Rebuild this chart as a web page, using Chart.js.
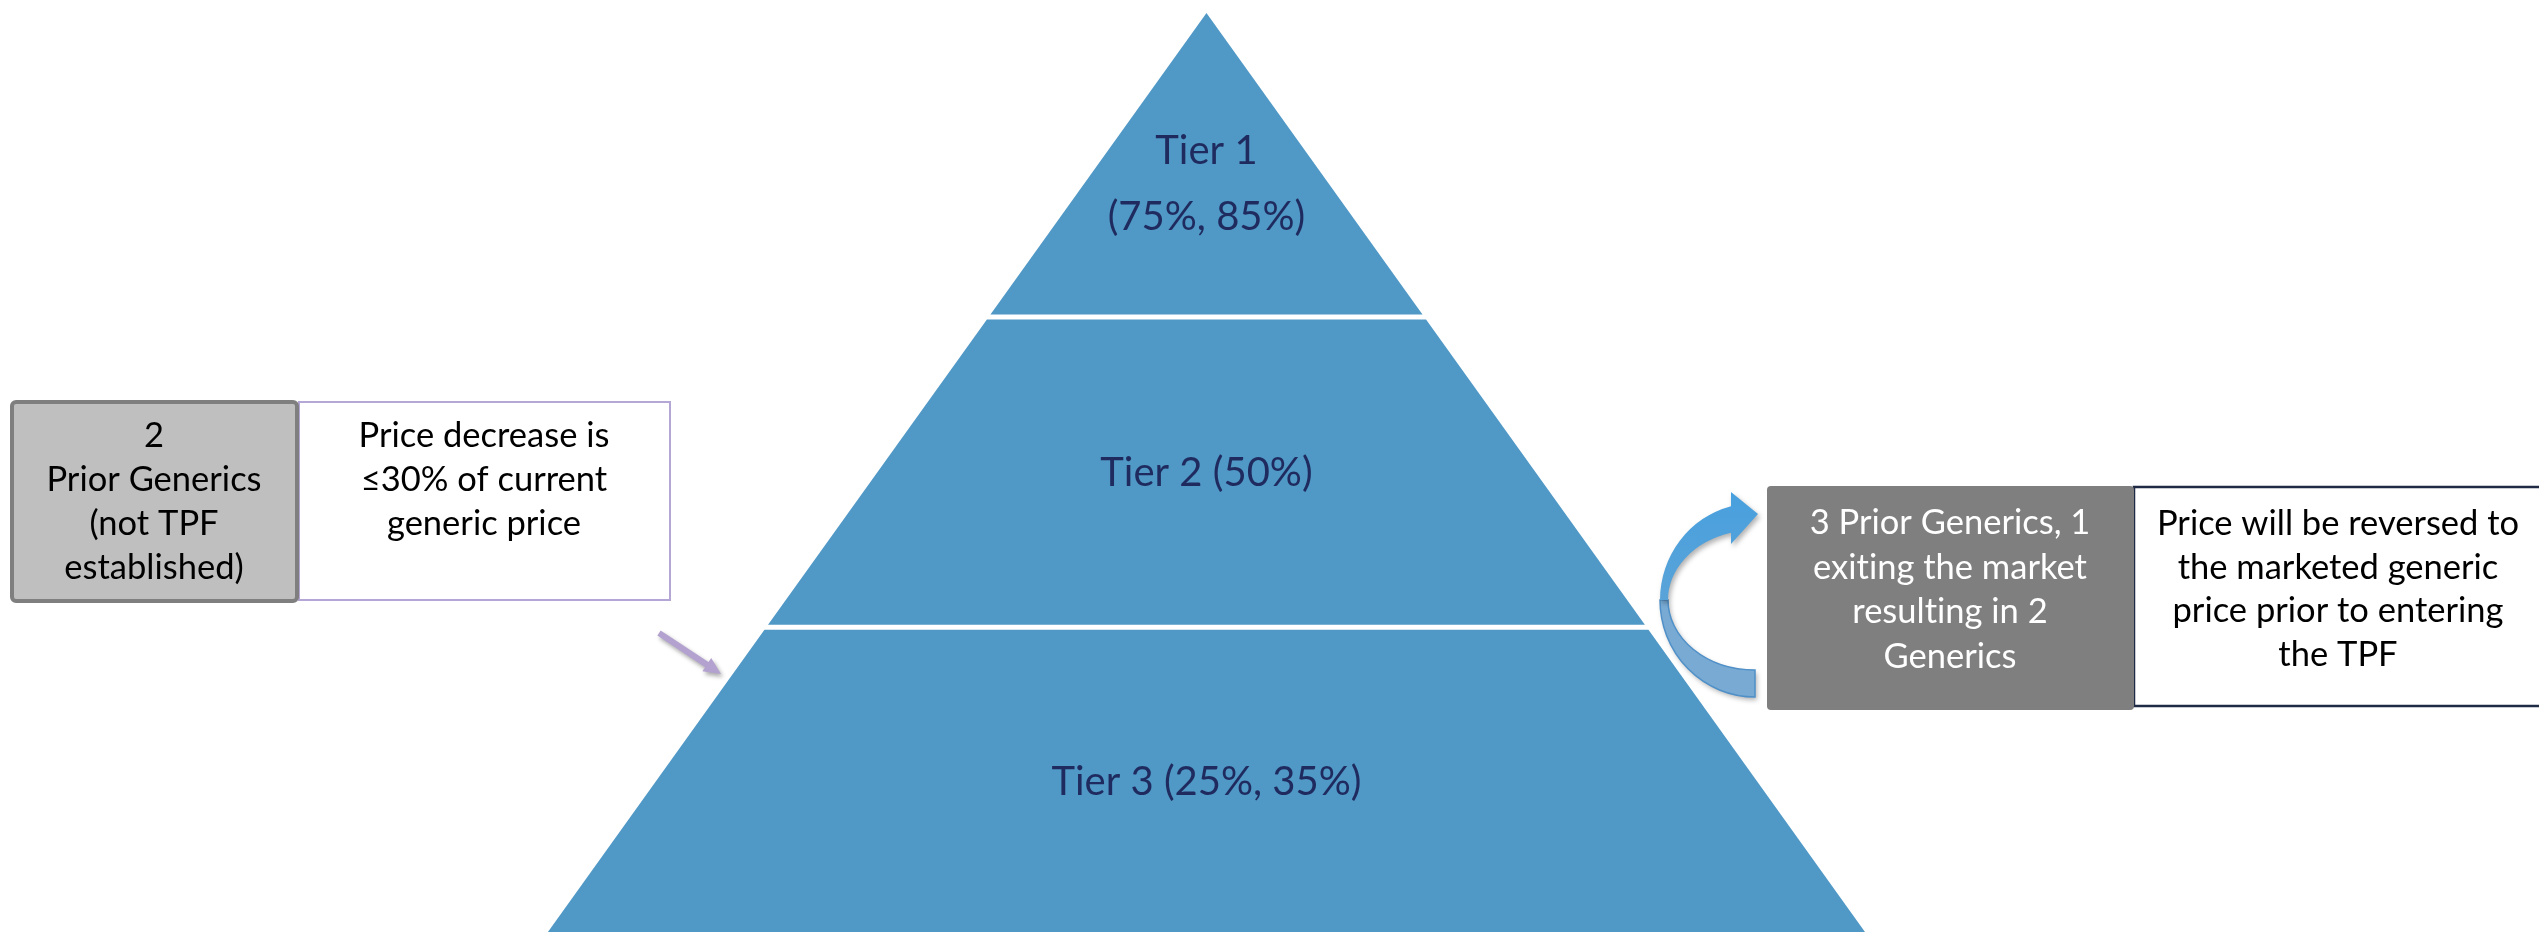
<!DOCTYPE html>
<html>
<head>
<meta charset="utf-8">
<title>Generic price tiers</title>
<script src="https://cdn.jsdelivr.net/npm/chart.js@4.4.0/dist/chart.umd.min.js"></script>
<style>
  html, body { margin: 0; padding: 0; background: #fff; }
  canvas { display: block; }
</style>
</head>
<body>
<canvas id="tierChart" width="2539" height="932"></canvas>
<script>
// Tiers of the pyramid, from the top down
const tierNames = ['Tier 1', 'Tier 2', 'Tier 3'];
const tierRates = [[75, 85], [50], [25, 35]];
// Where each tier starts/ends, as a share of the pyramid height (apex = 0, base = 1)
const tierEdges = [0, 0.33, 0.667, 1];

// Callout texts
const leftBoxLines = ['2', 'Prior Generics', '(not TPF', 'established)'];
const leftNoteLines = ['Price decrease is', '≤30% of current', 'generic price'];
const rightBoxLines = ['3 Prior Generics, 1', 'exiting the market', 'resulting in 2', 'Generics'];
const rightNoteLines = ['Price will be reversed to', 'the marketed generic', 'price prior to entering', 'the TPF'];

const FONT = 'Lato, "Open Sans", sans-serif';
const TIER_BLUE = '#5098c6';
const TIER_TEXT = '#1f2b5e';
const TIER_GAP = 0.0027;

function tierLabel(i) {
    return tierNames[i] + ' (' + tierRates[i].map(r => r + '%').join(', ') + ')';
}

// each tier is a closed trapezoid, half width equal to its depth below the apex
const datasets = tierNames.map((name, i) => {
    const top = tierEdges[i] + (i > 0 ? TIER_GAP : 0);
    const bottom = tierEdges[i + 1] - (i < tierNames.length - 1 ? TIER_GAP : 0);
    return {
        label: name,
        data: [
            { x: -top, y: top },
            { x: top, y: top },
            { x: bottom, y: bottom },
            { x: -bottom, y: bottom },
            { x: -top, y: top }
        ],
        fill: 'shape',
        backgroundColor: TIER_BLUE,
        borderColor: 'rgba(0,0,0,0)',
        borderWidth: 0,
        pointRadius: 0,
        tension: 0
    };
});

function drawLines(ctx, lines, cx, firstBaseline, lineHeight, font, color) {
    ctx.save();
    ctx.font = font;
    ctx.textRendering = 'optimizeSpeed'; // no "ti" ligatures
    ctx.fillStyle = color;
    ctx.textAlign = 'center';
    ctx.textBaseline = 'alphabetic';
    lines.forEach((line, k) => ctx.fillText(line, cx, firstBaseline + k * lineHeight));
    ctx.restore();
}

function roundRect(ctx, x, y, w, h, r) {
    ctx.beginPath();
    ctx.moveTo(x + r, y);
    ctx.arcTo(x + w, y, x + w, y + h, r);
    ctx.arcTo(x + w, y + h, x, y + h, r);
    ctx.arcTo(x, y + h, x, y, r);
    ctx.arcTo(x, y, x + w, y, r);
    ctx.closePath();
}

// labels in the middle of every tier; wrap when the line is wider than the tier
const tierLabelsPlugin = {
    id: 'tierLabels',
    afterDatasetsDraw(chart) {
        const { ctx, scales: { x, y } } = chart;
        const font = '40px ' + FONT;
        ctx.save();
        ctx.font = font;
        tierNames.forEach((name, i) => {
            const y0 = tierEdges[i], y1 = tierEdges[i + 1];
            const mid = i === 0 ? y0 + (y1 - y0) * 0.56 : (y0 + y1) / 2;
            const cx = x.getPixelForValue(0);
            const cy = y.getPixelForValue(mid);
            const room = (x.getPixelForValue(mid) - cx) * 2 * 0.85;
            let lines = [tierLabel(i)];
            if (ctx.measureText(lines[0]).width > room) {
                lines = [name, '(' + tierRates[i].map(r => r + '%').join(', ') + ')'];
            }
            const lh = 66;
            const first = cy - (lines.length - 1) * lh / 2 + 14;
            drawLines(ctx, lines, cx, first, lh, font, TIER_TEXT);
        });
        ctx.restore();
    }
};

function drawStraightArrow(ctx, x1, y1, x2, y2) {
    const ang = Math.atan2(y2 - y1, x2 - x1);
    const len = Math.hypot(x2 - x1, y2 - y1);
    const head = 17, half = 8, shaft = 3;
    ctx.save();
    ctx.translate(x1, y1);
    ctx.rotate(ang);
    ctx.shadowColor = 'rgba(0,0,0,0.35)';
    ctx.shadowBlur = 4;
    ctx.shadowOffsetX = 2;
    ctx.shadowOffsetY = 3;
    ctx.fillStyle = '#b3a2cf';
    ctx.beginPath();
    ctx.moveTo(0, -shaft);
    ctx.lineTo(len - head, -shaft);
    ctx.lineTo(len - head, -half);
    ctx.lineTo(len, 0);
    ctx.lineTo(len - head, half);
    ctx.lineTo(len - head, shaft);
    ctx.lineTo(0, shaft);
    ctx.closePath();
    ctx.fill();
    ctx.restore();
}

function drawCurvedArrow(ctx) {
    const cx = 1755, cy = 600;
    const ro = { x: 95, y: 97 }, ri = { x: 87, y: 70 };
    ctx.save();
    ctx.shadowColor = 'rgba(0,0,0,0.3)';
    ctx.shadowBlur = 5;
    ctx.shadowOffsetX = 2;
    ctx.shadowOffsetY = 3;

    // lower, back-facing half of the band
    ctx.beginPath();
    ctx.ellipse(cx, cy, ro.x, ro.y, 0, Math.PI, Math.PI / 2, true);
    ctx.lineTo(cx, cy + ri.y);
    ctx.ellipse(cx, cy, ri.x, ri.y, 0, Math.PI / 2, Math.PI, false);
    ctx.closePath();
    ctx.fillStyle = '#78aad3';
    ctx.fill();
    ctx.shadowColor = 'transparent';
    ctx.strokeStyle = '#4f90c8';
    ctx.lineWidth = 1.5;
    ctx.stroke();

    // upper, front-facing half with the head
    const ao = 2 * Math.PI - Math.acos(-24 / ro.x);
    const ai = 2 * Math.PI - Math.acos(-24 / ri.x);
    ctx.shadowColor = 'rgba(0,0,0,0.3)';
    ctx.beginPath();
    ctx.ellipse(cx, cy, ro.x, ro.y, 0, Math.PI, ao, false);
    ctx.lineTo(1731, 492);
    ctx.lineTo(1758, 514);
    ctx.lineTo(1731, 544);
    ctx.lineTo(cx + ri.x * Math.cos(ai), cy + ri.y * Math.sin(ai));
    ctx.ellipse(cx, cy, ri.x, ri.y, 0, ai, Math.PI, true);
    ctx.closePath();
    const g = ctx.createLinearGradient(0, 490, 0, 605);
    g.addColorStop(0, '#48a0de');
    g.addColorStop(1, '#5aa3d8');
    ctx.fillStyle = g;
    ctx.fill();
    ctx.restore();
}

const calloutsPlugin = {
    id: 'callouts',
    afterDraw(chart) {
        const ctx = chart.ctx;
        const boxFont = '34.5px ' + FONT;

        // left note box, then the grey label box over its left edge
        ctx.save();
        ctx.strokeStyle = '#b4a7d6';
        ctx.lineWidth = 2;
        ctx.strokeRect(299, 402, 371, 198);
        roundRect(ctx, 12, 402, 285, 199, 4);
        ctx.fillStyle = '#bfbfbf';
        ctx.fill();
        ctx.strokeStyle = '#7f7f7f';
        ctx.lineWidth = 4;
        ctx.stroke();
        ctx.restore();
        drawLines(ctx, leftBoxLines, 154, 447, 44, boxFont, '#000');
        drawLines(ctx, leftNoteLines, 484, 447, 44, boxFont, '#000');

        drawStraightArrow(ctx, 659, 633, 721, 674);

        // right side: curved arrow, dark label box and note box
        drawCurvedArrow(ctx);
        ctx.save();
        ctx.strokeStyle = '#1f2a44';
        ctx.lineWidth = 2.5;
        ctx.strokeRect(2134, 487, 420, 219);
        roundRect(ctx, 1767, 486, 367, 224, 4);
        ctx.fillStyle = '#7f7f7f';
        ctx.fill();
        ctx.restore();
        drawLines(ctx, rightBoxLines, 1950, 534, 44.5, boxFont, '#fff');
        drawLines(ctx, rightNoteLines, 2338, 535, 43.5, boxFont, '#000');
    }
};

const chart = new Chart(document.getElementById('tierChart'), {
    type: 'line',
    data: { datasets: datasets },
    options: {
        responsive: false,
        animation: false,
        events: [],
        layout: { padding: 0 },
        plugins: {
            legend: { display: false },
            tooltip: { enabled: false }
        },
        scales: {
            x: { type: 'linear', display: false, min: -1.828, max: 2.019 },
            y: { type: 'linear', display: false, reverse: true, min: -0.0141, max: 0.9978 }
        }
    },
    plugins: [tierLabelsPlugin, calloutsPlugin]
});
</script>
</body>
</html>
